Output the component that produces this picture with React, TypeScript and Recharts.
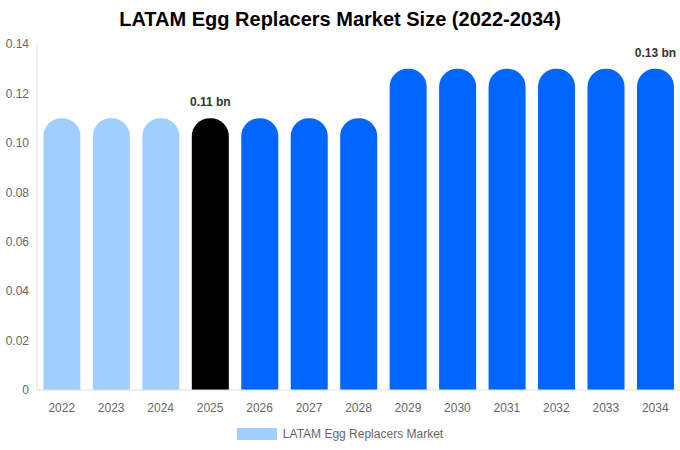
import { BarChart, Bar, XAxis, YAxis, Cell, Legend, LabelList } from 'recharts';

const years = ['2022', '2023', '2024', '2025', '2026', '2027', '2028', '2029', '2030', '2031', '2032', '2033', '2034'];
const marketSize = [0.11, 0.11, 0.11, 0.11, 0.11, 0.11, 0.11, 0.13, 0.13, 0.13, 0.13, 0.13, 0.13];
const labelledYears = ['2025', '2034'];
const yTicks = [0, 0.02, 0.04, 0.06, 0.08, 0.1, 0.12, 0.14];

const LIGHT = '#a0cfff';
const BLUE = '#0066ff';

const data = years.map((year, i) => ({
    year,
    value: marketSize[i],
    label: labelledYears.includes(year) ? `${marketSize[i].toFixed(2)} bn` : '',
}));

const barColor = (year: string) => {
    const y = Number(year);
    if (y < 2025) return LIGHT;
    if (y === 2025) return '#000000';
    return BLUE;
};

// plain label, no wrapping to bar width
const TopLabel = (props: any) => {
    const { x, y, width, value } = props;
    if (!value) return null;
    return (
        <text x={x + width / 2} y={y - 12} textAnchor="middle" fill="#333" fontSize={12} fontWeight="bold">
            {value}
        </text>
    );
};

export default function App() {
    return (
        <div style={{ position: 'absolute', left: 0, top: 0, width: 680, height: 450, fontFamily: 'Liberation Sans, Arial, sans-serif', background: '#fff' }}>
            <div style={{ position: 'absolute', top: 8, left: 0, width: 680, textAlign: 'center', fontSize: 20, fontWeight: 'bold', color: '#000' }}>
                LATAM Egg Replacers Market Size (2022-2034)
            </div>
            <BarChart
                width={680}
                height={450}
                data={data}
                margin={{ top: 44, right: 0, left: 0, bottom: 6 }}
                barCategoryGap="13%"
            >
                <XAxis
                    dataKey="year"
                    tickLine={false}
                    axisLine={{ stroke: '#e0e0e0' }}
                    tick={{ fill: '#666', fontSize: 12 }}
                    tickMargin={7}
                    height={34}
                />
                <YAxis
                    width={37}
                    domain={[0, 0.14]}
                    ticks={yTicks}
                    tickFormatter={(v: number) => (v === 0 ? '0' : v.toFixed(2))}
                    tickLine={false}
                    axisLine={{ stroke: '#e0e0e0' }}
                    tick={{ fill: '#666', fontSize: 12 }}
                    interval={0}
                />
                <Legend
                    verticalAlign="bottom"
                    content={() => (
                        <div style={{ display: 'flex', justifyContent: 'center', alignItems: 'center', gap: 6, fontSize: 12, color: '#666', height: 20 }}>
                            <span style={{ display: 'inline-block', width: 40, height: 12, background: LIGHT }} />
                            <span>LATAM Egg Replacers Market</span>
                        </div>
                    )}
                />
                <Bar dataKey="value" name="LATAM Egg Replacers Market" fill={LIGHT} radius={[18, 18, 0, 0]} isAnimationActive={false}>
                    {data.map((d) => (
                        <Cell key={d.year} fill={barColor(d.year)} />
                    ))}
                    <LabelList dataKey="label" content={TopLabel} />
                </Bar>
            </BarChart>
        </div>
    );
}
